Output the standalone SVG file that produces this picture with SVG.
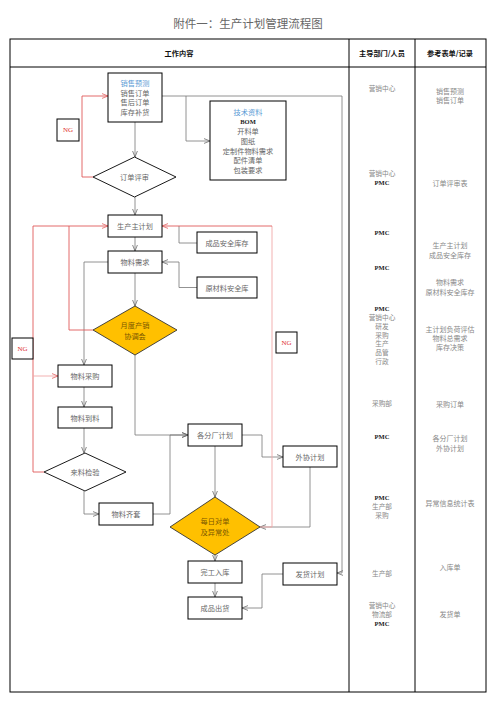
<svg xmlns="http://www.w3.org/2000/svg" width="496" height="702" viewBox="0 0 496 702">
<style>
text{font-family:"Noto Sans CJK SC","Liberation Serif",serif;text-anchor:middle;dominant-baseline:central}
.box{fill:#fff;stroke:#000;stroke-width:1}
.dia{fill:#fff;stroke:#000;stroke-width:0.9}
.gold{fill:#FFC000;stroke:#333;stroke-width:0.9}
.t{font-size:7.2px;fill:#666}
.tb{font-size:7.2px;fill:#5b9bd5}
.td{font-size:7.2px;fill:#7a5600}
.ng{font-size:7px;fill:#e03030;font-family:"Liberation Serif",serif}
.hd{font-size:7.2px;font-weight:bold;fill:#111}
.c2{font-size:6.7px;fill:#888}
.c3{font-size:7px;fill:#888}
.pmc{font-size:6.5px;fill:#222;font-weight:bold;font-family:"Liberation Serif",serif}
.g{fill:none;stroke:#777;stroke-width:0.8}
.r{fill:none;stroke:#e05a5a;stroke-width:0.9}
.p{fill:none;stroke:#f0a8a8;stroke-width:0.9}
.tbl{fill:none;stroke:#000;stroke-width:1}
</style>
<defs>
<marker id="ag" viewBox="0 0 10 10" refX="10" refY="5" markerWidth="6" markerHeight="6" orient="auto" markerUnits="userSpaceOnUse"><path d="M0,1 L10,5 L0,9" fill="none" stroke="#666" stroke-width="1.3"/></marker>
<marker id="ar" viewBox="0 0 10 10" refX="10" refY="5" markerWidth="6" markerHeight="6" orient="auto" markerUnits="userSpaceOnUse"><path d="M0,1 L10,5 L0,9" fill="none" stroke="#e05a5a" stroke-width="1.3"/></marker>
</defs>

<text x="248" y="23" style="font-size:11.5px;fill:#666">附件一：生产计划管理流程图</text>

<g id="table">
<rect class="tbl" x="10" y="39" width="476" height="653"/>
<line class="tbl" x1="10" y1="67" x2="486" y2="67"/>
<line class="tbl" x1="349" y1="39" x2="349" y2="692"/>
<line class="tbl" x1="415" y1="39" x2="415" y2="692"/>
<text class="hd" x="179" y="53">工作内容</text>
<text class="hd" x="382" y="53">主导部门/人员</text>
<text class="hd" x="450" y="53">参考表单/记录</text>
</g>

<g id="col2">
<text class="c2" x="382" y="88">营销中心</text>
<text class="c2" x="382" y="173">营销中心</text>
<text class="pmc" x="382" y="182">PMC</text>
<text class="pmc" x="382" y="232">PMC</text>
<text class="pmc" x="382" y="267">PMC</text>
<text class="pmc" x="382" y="308">PMC</text>
<text class="c2" x="382" y="317">营销中心</text>
<text class="c2" x="382" y="326">研发</text>
<text class="c2" x="382" y="334.5">采购</text>
<text class="c2" x="382" y="343">生产</text>
<text class="c2" x="382" y="352">品管</text>
<text class="c2" x="382" y="361">行政</text>
<text class="c2" x="382" y="403">采购部</text>
<text class="pmc" x="382" y="436">PMC</text>
<text class="pmc" x="382" y="497">PMC</text>
<text class="c2" x="382" y="506">生产部</text>
<text class="c2" x="382" y="515">采购</text>
<text class="c2" x="382" y="573">生产部</text>
<text class="c2" x="382" y="605">营销中心</text>
<text class="c2" x="382" y="614">物流部</text>
<text class="pmc" x="382" y="623">PMC</text>
</g>

<g id="col3">
<text class="c3" x="450" y="91">销售预测</text>
<text class="c3" x="450" y="100">销售订单</text>
<text class="c3" x="450" y="183">订单评审表</text>
<text class="c3" x="450" y="245">生产主计划</text>
<text class="c3" x="450" y="255">成品安全库存</text>
<text class="c3" x="450" y="282">物料需求</text>
<text class="c3" x="450" y="292">原材料安全库存</text>
<text class="c3" x="450" y="329">主计划负荷评估</text>
<text class="c3" x="450" y="338">物料总需求</text>
<text class="c3" x="450" y="347">库存决策</text>
<text class="c3" x="450" y="404">采购订单</text>
<text class="c3" x="450" y="438">各分厂计划</text>
<text class="c3" x="450" y="448">外协计划</text>
<text class="c3" x="450" y="503">异常信息统计表</text>
<text class="c3" x="450" y="567">入库单</text>
<text class="c3" x="450" y="614">发货单</text>
</g>

<g id="connectors">
<path class="g" d="M162,96 H342 V573 H337" marker-end="url(#ag)"/>
<path class="g" d="M186,96 V141 H210" marker-end="url(#ag)"/>
<path class="g" d="M135,122 V157" marker-end="url(#ag)"/>
<path class="g" d="M135,197 V215" marker-end="url(#ag)"/>
<path class="g" d="M197,243 H179 V226"/>
<path class="g" d="M135,237 V251" marker-end="url(#ag)"/>
<path class="g" d="M197,287.5 H179 V262 H162" marker-end="url(#ag)"/>
<path class="g" d="M135,273 V306" marker-end="url(#ag)"/>
<path class="g" d="M108,262 H84 V365" marker-end="url(#ag)"/>
<path class="g" d="M84,387 V407" marker-end="url(#ag)"/>
<path class="g" d="M84,428 V453" marker-end="url(#ag)"/>
<path class="g" d="M84,491 V514 H99" marker-end="url(#ag)"/>
<path class="g" d="M153,514 H170 V435 H188" marker-end="url(#ag)"/>
<path class="g" d="M135,355 V435 H188" marker-end="url(#ag)"/>
<path class="g" d="M242,435 H262 V457 H283" marker-end="url(#ag)"/>
<path class="g" d="M215,446 V497" marker-end="url(#ag)"/>
<path class="g" d="M310,467 V527 H260" marker-end="url(#ag)"/>
<path class="g" d="M215,555 V561" marker-end="url(#ag)"/>
<path class="g" d="M215,583 V597" marker-end="url(#ag)"/>
<path class="g" d="M283,574 H262 V608 H242" marker-end="url(#ag)"/>
<path class="r" d="M93,177 H82 V96 H108" marker-end="url(#ar)"/>
<path class="r" d="M93,330 H69 V226"/>
<path class="r" d="M44,472 H33 V226 H108" marker-end="url(#ar)"/>
<path class="p" d="M33,376 H58" marker-end="url(#ar)"/>
<path class="p" d="M260,527 H272 V226"/>
<path class="r" d="M272,226 H162" marker-end="url(#ar)"/>
</g>

<g id="n-sales">
<rect class="box" x="108" y="73" width="54" height="49"/>
<text class="tb" x="135" y="83">销售预测</text>
<text class="t" x="135" y="92.5">销售订单</text>
<text class="t" x="135" y="102">售后订单</text>
<text class="t" x="135" y="111.5">库存补货</text>
</g>
<g id="n-tech">
<rect class="box" x="210" y="101" width="76" height="79"/>
<text class="tb" x="248" y="112">技术资料</text>
<text x="248" y="121" style="font-size:6.5px;font-weight:bold;fill:#222;font-family:'Liberation Serif',serif">BOM</text>
<text class="t" x="248" y="130.5">开料单</text>
<text class="t" x="248" y="140.5">图纸</text>
<text class="t" x="248" y="150.5">定制件物料需求</text>
<text class="t" x="248" y="160">配件清单</text>
<text class="t" x="248" y="170">包装要求</text>
</g>
<g id="n-ng1">
<rect class="box" x="57" y="119" width="22" height="22"/>
<text class="ng" x="68" y="130">NG</text>
</g>
<g id="n-review">
<polygon class="dia" points="134.5,157 176,177 134.5,197 93,177"/>
<text class="t" x="134.5" y="177">订单评审</text>
</g>
<g id="n-mps">
<rect class="box" x="108" y="215" width="54" height="22"/>
<text class="t" x="135" y="226">生产主计划</text>
</g>
<g id="n-fgsafe">
<rect class="box" x="197" y="232" width="60" height="21"/>
<text class="t" x="227" y="242.5">成品安全库存</text>
</g>
<g id="n-mrp">
<rect class="box" x="108" y="251" width="54" height="22"/>
<text class="t" x="135" y="262">物料需求</text>
</g>
<g id="n-rmsafe">
<rect class="box" x="197" y="277" width="60" height="21"/>
<text class="t" x="227" y="287.5">原材料安全库</text>
</g>
<g id="n-monthly">
<polygon class="gold" points="135,306 177,330 135,355 93,330"/>
<text class="td" x="135" y="325">月度产销</text>
<text class="td" x="135" y="336">协调会</text>
</g>
<g id="n-ng2">
<rect class="box" x="12" y="338" width="21" height="21"/>
<text class="ng" x="22.5" y="348.5">NG</text>
</g>
<g id="n-ng3">
<rect class="box" x="276" y="332" width="21" height="21"/>
<text class="ng" x="286.5" y="342.5">NG</text>
</g>
<g id="n-purchase">
<rect class="box" x="58" y="365" width="54" height="22"/>
<text class="t" x="85" y="376">物料采购</text>
</g>
<g id="n-arrive">
<rect class="box" x="58" y="407" width="54" height="21"/>
<text class="t" x="85" y="417.5">物料到料</text>
</g>
<g id="n-iqc">
<polygon class="dia" points="85,453 126,472 85,491 44,472"/>
<text class="t" x="85" y="472">来料检验</text>
</g>
<g id="n-kit">
<rect class="box" x="99" y="503" width="54" height="22"/>
<text class="t" x="126" y="514">物料齐套</text>
</g>
<g id="n-plant">
<rect class="box" x="188" y="424" width="54" height="22"/>
<text class="t" x="215" y="435">各分厂计划</text>
</g>
<g id="n-outsrc">
<rect class="box" x="283" y="446" width="54" height="21"/>
<text class="t" x="310" y="456.5">外协计划</text>
</g>
<g id="n-daily">
<polygon class="gold" points="215,497 260,527 215,555 170,527"/>
<text class="td" x="215" y="520.5">每日对单</text>
<text class="td" x="215" y="531.5">及异常处</text>
</g>
<g id="n-finish">
<rect class="box" x="188" y="561" width="54" height="22"/>
<text class="t" x="215" y="572">完工入库</text>
</g>
<g id="n-ship">
<rect class="box" x="283" y="563" width="54" height="22"/>
<text class="t" x="310" y="574">发货计划</text>
</g>
<g id="n-out">
<rect class="box" x="188" y="597" width="54" height="22"/>
<text class="t" x="215" y="608">成品出货</text>
</g>
</svg>
